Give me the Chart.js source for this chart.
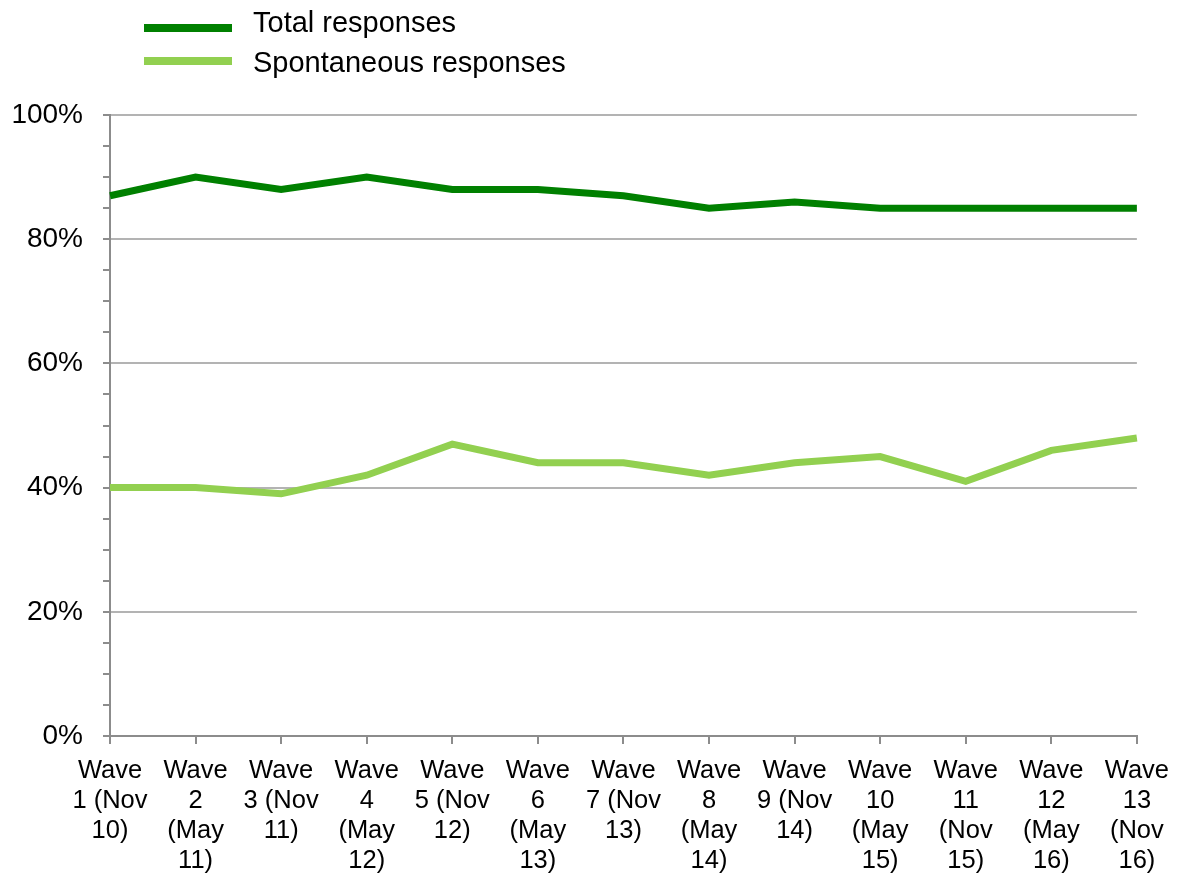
<!DOCTYPE html>
<html>
<head>
<meta charset="utf-8">
<script src="https://cdn.jsdelivr.net/npm/chart.js@4"></script>
<style>
  html, body { margin: 0; padding: 0; background: #fff; }
  #wrap { position: relative; width: 1181px; height: 875px; }
  .lg-text { position: absolute; left: 253px; font-family: "Liberation Sans", Arial, sans-serif; font-size: 29px; line-height: 34px; color: #000; white-space: nowrap; }
  .lg-swatch { position: absolute; left: 144px; width: 88px; height: 8px; }
</style>
</head>
<body>
<div id="wrap">
  <canvas id="chart" width="1181" height="875"></canvas>
  <div class="lg-swatch" style="top:24px; background:#008000"></div>
  <div class="lg-text" style="top:5px">Total responses</div>
  <div class="lg-swatch" style="top:57px; background:#92D050"></div>
  <div class="lg-text" style="top:45px">Spontaneous responses</div>
</div>
<script>
// Categories (wrapped as in the original)
const waveLabels = [
  ['Wave', '1 (Nov', '10)'],
  ['Wave', '2', '(May', '11)'],
  ['Wave', '3 (Nov', '11)'],
  ['Wave', '4', '(May', '12)'],
  ['Wave', '5 (Nov', '12)'],
  ['Wave', '6', '(May', '13)'],
  ['Wave', '7 (Nov', '13)'],
  ['Wave', '8', '(May', '14)'],
  ['Wave', '9 (Nov', '14)'],
  ['Wave', '10', '(May', '15)'],
  ['Wave', '11', '(Nov', '15)'],
  ['Wave', '12', '(May', '16)'],
  ['Wave', '13', '(Nov', '16)']
];

// Series values (%)
const totalResponses = [87, 90, 88, 90, 88, 88, 87, 85, 86, 85, 85, 85, 85];
const spontaneousResponses = [40, 40, 39, 42, 47, 44, 44, 42, 44, 45, 41, 46, 48];

const FONT = '"Liberation Sans", Arial, sans-serif';
const axisGray = '#8c8c8c';

const ctx = document.getElementById('chart').getContext('2d');
new Chart(ctx, {
  type: 'line',
  data: {
    labels: waveLabels,
    datasets: [
      {
        label: 'Total responses',
        data: totalResponses,
        borderColor: '#008000',
        borderWidth: 7,
        pointRadius: 0,
        tension: 0,
        fill: false
      },
      {
        label: 'Spontaneous responses',
        data: spontaneousResponses,
        borderColor: '#92D050',
        borderWidth: 7,
        pointRadius: 0,
        tension: 0,
        fill: false
      }
    ]
  },
  options: {
    responsive: false,
    animation: false,
    layout: { padding: { top: 115, right: 44, bottom: 0, left: 0 } },
    plugins: {
      legend: { display: false },
      tooltip: { enabled: false }
    },
    scales: {
      x: {
        offset: false,
        grid: {
          display: true,
          drawOnChartArea: false,
          tickLength: 8,
          tickColor: axisGray,
          lineWidth: 2
        },
        border: { color: axisGray, width: 2 },
        ticks: {
          autoSkip: false,
          maxRotation: 0,
          padding: 12,
          color: '#000',
          font: { family: FONT, size: 25.5, lineHeight: 1.18 }
        },
        afterFit: s => { s.height = 875 - 736; }
      },
      y: {
        min: 0,
        max: 100,
        grid: {
          color: c => (c.tick && c.tick.value % 20 === 0 ? '#b3b3b3' : 'transparent'),
          tickColor: axisGray,
          tickLength: 7,
          lineWidth: 2
        },
        border: { color: axisGray, width: 2 },
        ticks: {
          stepSize: 5,
          autoSkip: false,
          padding: 20,
          color: '#000',
          font: { family: FONT, size: 28 },
          callback: v => (v % 20 === 0 ? v + '%' : '')
        },
        afterFit: s => { s.width = 110; }
      }
    }
  }
});
</script>
</body>
</html>
